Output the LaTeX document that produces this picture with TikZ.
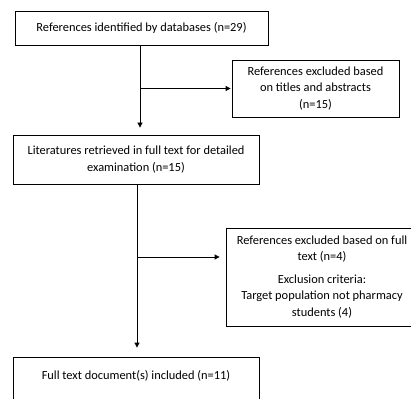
\documentclass[tikz,border=0pt]{standalone}
\usepackage{fontspec}
\setmainfont{Carlito}
\usetikzlibrary{positioning, arrows.meta}
\tikzset{
box/.style={shape=rectangle, draw, line width=0.8pt, align=center, inner sep=2pt, font=\fontsize{12.4}{16.5}\selectfont},
flow/.style={-{Triangle[length=5pt, width=5pt]}, line width=0.8pt}}

\begin{document}
\begin{tikzpicture}[x=1pt, y=-1pt]
\useasboundingbox (0,0) rectangle (411,398);
\node [box, minimum width=253pt, minimum height=34pt] at (141.5, 28) (refs) {References identified by databases (n=29)};
\node [box, minimum width=167pt, minimum height=57pt] at (315.5, 88.5) (excl-1) {References excluded based\\on titles and abstracts\\(n=15)};
\node [box, minimum width=246pt, minimum height=49pt] at (136, 159.5) (lit) {Literatures retrieved in full text for detailed\\examination (n=15)};
\node [box, minimum width=192pt, minimum height=98pt] at (322, 277) (excl-2) {References excluded based on full\\text (n=4)\\[6pt]Exclusion criteria:\\Target population not pharmacy\\students (4)};
\node [box, minimum width=246pt, minimum height=52pt] at (136, 383) (incl) {Full text document(s) included (n=11)\\[0pt]~};
\draw [flow, shorten >=7pt] (refs.south -| 140,0) -- (lit.north -| 140,0);
\draw [flow, shorten >=1pt] (excl-1.west -| 140,0) -- (excl-1.west);
\coordinate (split) at (137, 257);
\draw [flow, shorten >=9pt] (lit.south -| split) -- (incl.north -| split);
\draw [flow, shorten >=6pt] (split) -- (split -| excl-2.west);
\end{tikzpicture}
\end{document}
